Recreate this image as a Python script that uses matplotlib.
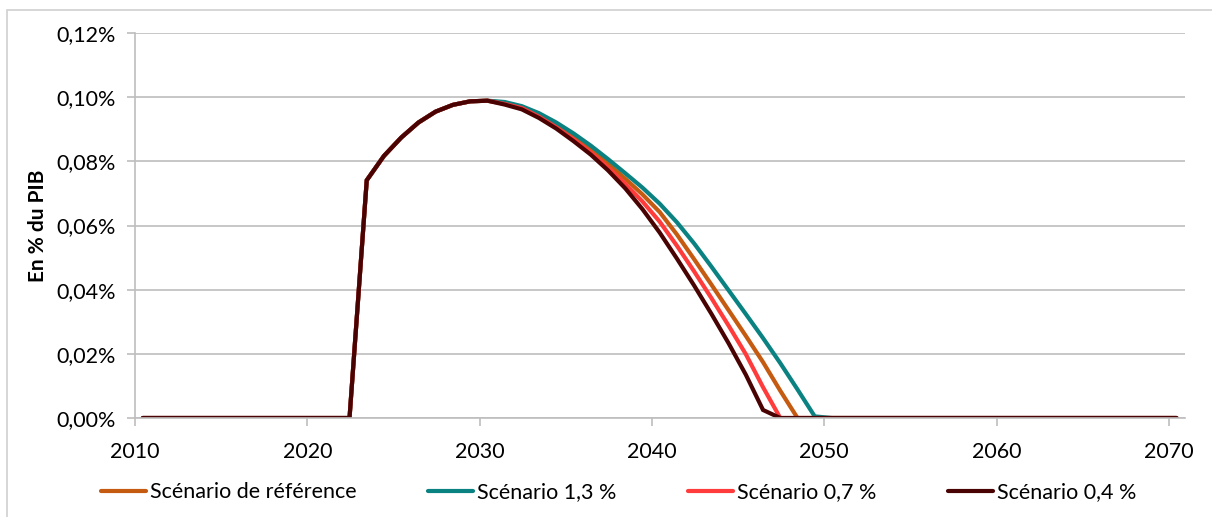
import numpy as np
import matplotlib
matplotlib.use("Agg")
import matplotlib.pyplot as plt
from matplotlib.patches import Rectangle
from matplotlib.ticker import FuncFormatter

plt.rcParams['font.family'] = ['Lato', 'DejaVu Sans']

years = np.arange(2010, 2071)

# valeurs communes 2010-2030 (en %)
debut = [0.0] * 13 + [0.0741, 0.0817, 0.0874, 0.0921, 0.0955, 0.0976, 0.0987, 0.0989]

# 2031 -> 2050
ref = [0.0982, 0.0969, 0.0945, 0.0914, 0.0878, 0.0838, 0.0793, 0.0746, 0.0697, 0.0642,
       0.0572, 0.0495, 0.0416, 0.0336, 0.0256, 0.0174, 0.0085, 0.0, 0.0, 0.0]
sc13 = [0.0985, 0.0972, 0.0950, 0.0921, 0.0887, 0.0849, 0.0807, 0.0763, 0.0718, 0.0668,
        0.0610, 0.0544, 0.0472, 0.0398, 0.0324, 0.0249, 0.0171, 0.0089, 0.0005, 0.0]
sc07 = [0.0979, 0.0966, 0.0939, 0.0906, 0.0869, 0.0828, 0.0781, 0.0730, 0.0675, 0.0612,
        0.0537, 0.0457, 0.0374, 0.0288, 0.0199, 0.0096, 0.0, 0.0, 0.0, 0.0]
sc04 = [0.0977, 0.0962, 0.0935, 0.0902, 0.0863, 0.0821, 0.0772, 0.0716, 0.0651, 0.0578,
        0.0497, 0.0413, 0.0325, 0.0233, 0.0135, 0.0025, 0.0, 0.0, 0.0, 0.0]
fin = [0.0] * 20  # 2051 -> 2070

series = [
    ("Scénario de référence", debut + ref + fin, "#C55A11"),
    ("Scénario 1,3 %", debut + sc13 + fin, "#0A8281"),
    ("Scénario 0,7 %", debut + sc07 + fin, "#FF3B3B"),
    ("Scénario 0,4 %", debut + sc04 + fin, "#4A0303"),
]

fig = plt.figure(figsize=(12.12, 5.17), dpi=100)
fig.patches.append(Rectangle((7 / 1212, -0.1), 1.2, 1 - 10 / 517 + 0.1,
                             transform=fig.transFigure, fill=False,
                             edgecolor="#D0D0D0", linewidth=1.2))
ax = fig.add_axes([135 / 1212, 1 - 418 / 517, 1050 / 1212, 385 / 517])

x = years + 0.45
for label, vals, col in series:
    ax.plot(x, vals, color=col, linewidth=3, label=label, solid_capstyle="round",
            solid_joinstyle="miter")

ax.set_xlim(2010, 2070.94)
ax.set_ylim(0, 0.12)
ax.set_xticks(range(2010, 2071, 10))
ax.set_yticks(np.arange(0, 0.1201, 0.02))
ax.yaxis.set_major_formatter(FuncFormatter(lambda v, p: f"{v:.2f}%".replace(".", ",")))
ax.grid(axis="y", color="#BEBEBE", linewidth=1.2)
ax.set_axisbelow(True)
for s in ["top", "right"]:
    ax.spines[s].set_visible(False)
for s in ["left", "bottom"]:
    ax.spines[s].set_color("#BEBEBE")
    ax.spines[s].set_linewidth(1.2)
ax.tick_params(axis="both", colors="#BEBEBE", labelcolor="black", labelsize=15.5,
               length=6, width=1.2)
ax.tick_params(axis="x", pad=11)
ax.tick_params(axis="y", pad=8)
ax.set_ylabel("En % du PIB", fontsize=15, fontweight="bold", labelpad=6)

ax.legend(loc="upper left", bbox_to_anchor=(-0.041, -0.145), ncol=4, frameon=False,
          fontsize=15.5, handlelength=2.1, handletextpad=0.2, columnspacing=3.3,
          borderaxespad=0)

fig.savefig("out.png", dpi=100)
